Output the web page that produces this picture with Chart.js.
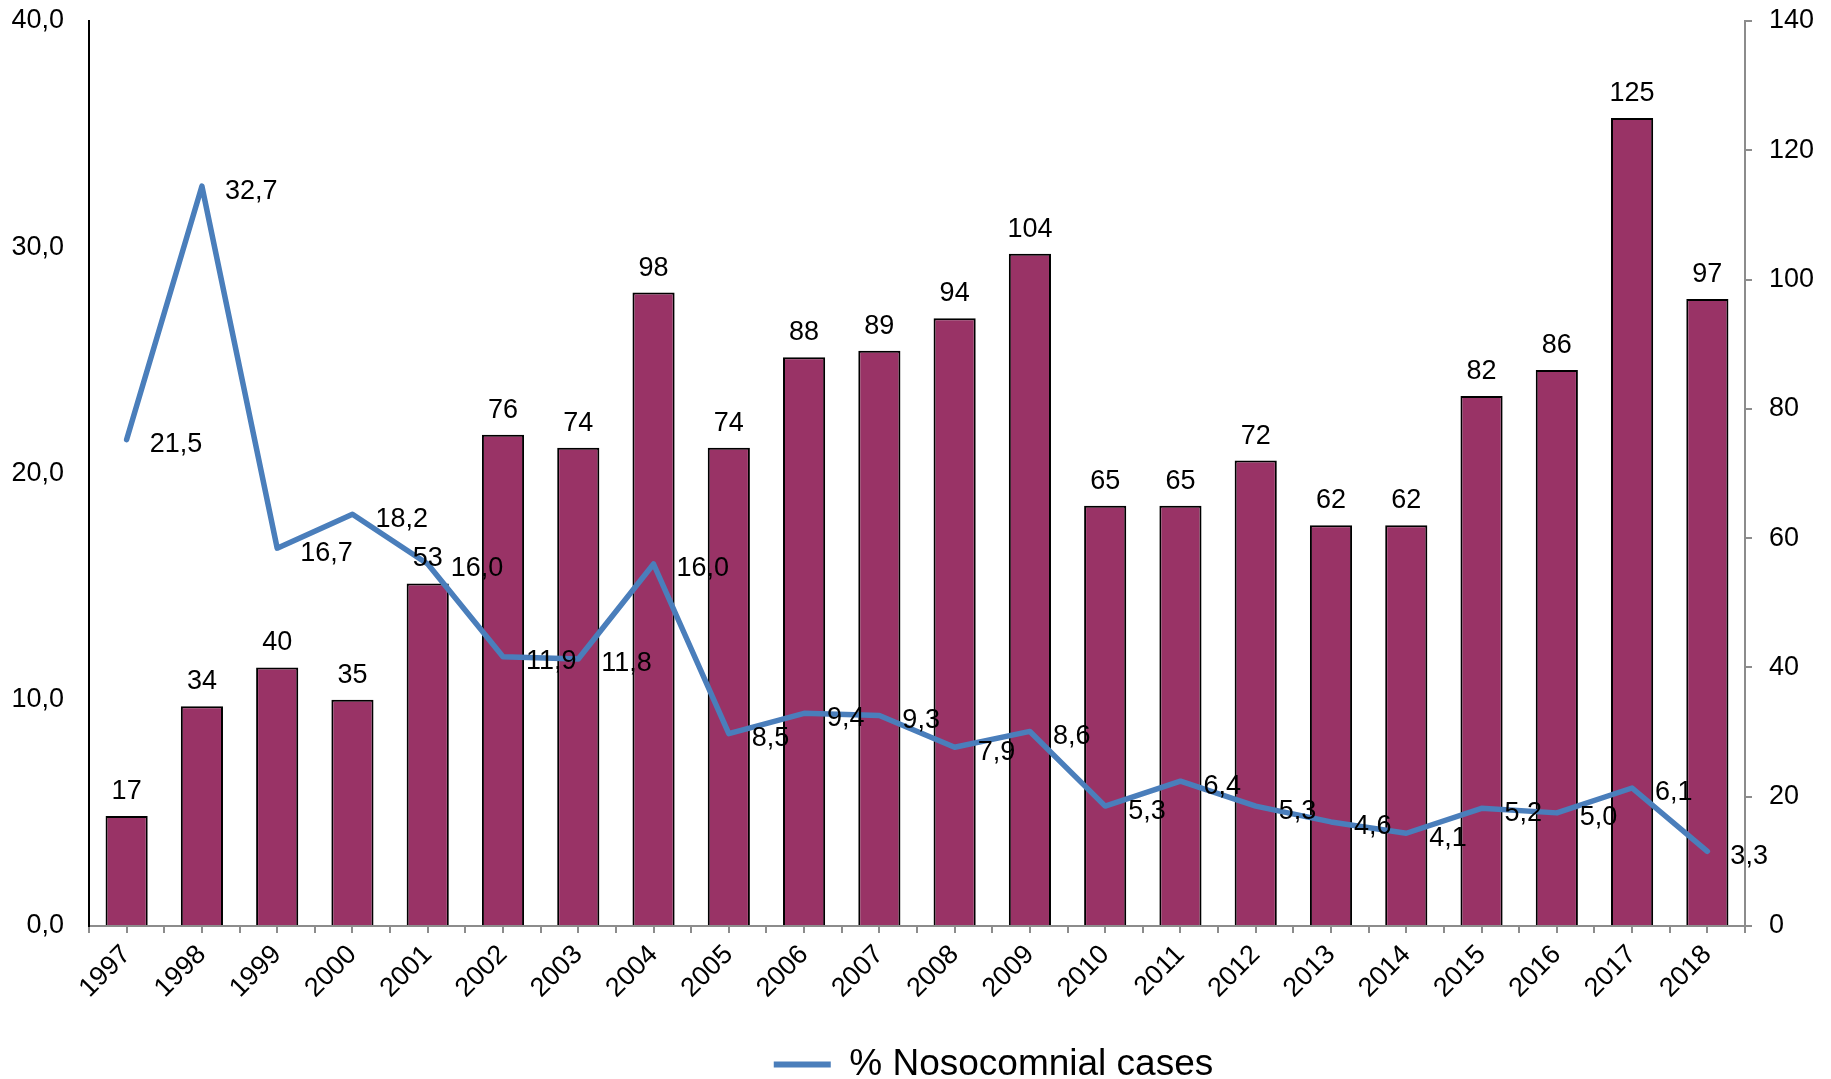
<!DOCTYPE html>
<html>
<head>
<meta charset="utf-8">
<script src="https://cdn.jsdelivr.net/npm/chart.js@4/dist/chart.umd.min.js"></script>
<style>
  html, body { margin: 0; padding: 0; background: #fff; }
  #wrap { width: 1831px; height: 1079px; position: relative; }
</style>
</head>
<body>
<div id="wrap"><canvas id="c"></canvas></div>
<script>
const years = ['1997','1998','1999','2000','2001','2002','2003','2004','2005','2006','2007','2008','2009','2010','2011','2012','2013','2014','2015','2016','2017','2018'];
const cases = [17,34,40,35,53,76,74,98,74,88,89,94,104,65,65,72,62,62,82,86,125,97];
const nosocomialPct = [21.5,32.7,16.7,18.2,16.0,11.9,11.8,16.0,8.5,9.4,9.3,7.9,8.6,5.3,6.4,5.3,4.6,4.1,5.2,5.0,6.1,3.3];
const leftTicks = [0,10,20,30,40];
const rightTicks = [0,20,40,60,80,100,120,140];

const FONT = "'Liberation Sans', Arial, Helvetica, sans-serif";
const comma1 = v => Number(v).toFixed(1).replace('.', ',');

const labelsPlugin = {
  id: 'valueLabels',
  afterDatasetsDraw(chart) {
    const ctx = chart.ctx;
    ctx.save();
    ctx.font = '27px ' + FONT;
    ctx.fillStyle = '#000';
    chart.data.datasets.forEach((ds, di) => {
      const meta = chart.getDatasetMeta(di);
      meta.data.forEach((el, i) => {
        if (ds.type === 'line') {
          ctx.textAlign = 'left';
          ctx.textBaseline = 'middle';
          ctx.fillText(comma1(ds.data[i]), el.x + 23, el.y + 5);
        } else {
          ctx.textAlign = 'center';
          ctx.textBaseline = 'alphabetic';
          ctx.fillText(String(ds.data[i]), el.x, el.y - 17);
        }
      });
    });
    ctx.restore();
  }
};

const centerTicksPlugin = {
  id: 'centerTicks',
  afterDraw(chart) {
    const xs = chart.scales.x;
    const ctx = chart.ctx;
    ctx.save();
    ctx.strokeStyle = '#8c8c8c';
    ctx.lineWidth = 2;
    ctx.beginPath();
    years.forEach((y, i) => {
      const px = Math.round(xs.getPixelForValue(i));
      ctx.moveTo(px, xs.top);
      ctx.lineTo(px, xs.top + 7);
    });
    ctx.stroke();
    ctx.restore();
  }
};

const legendShift = {
  id: 'legendShift',
  afterLayout(chart) {
    if (chart.legend) {
      chart.legend.left += 78;
      chart.legend.right += 78;
    }
  }
};

new Chart(document.getElementById('c'), {
  type: 'bar',
  data: {
    labels: years,
    datasets: [
      {
        type: 'line',
        label: '% Nosocomnial cases',
        data: nosocomialPct,
        yAxisID: 'y',
        borderColor: '#4A7EBB',
        backgroundColor: '#4A7EBB',
        borderWidth: 5.5,
        pointRadius: 0,
        tension: 0,
        borderJoinStyle: 'round',
        borderCapStyle: 'round',
        order: 0
      },
      {
        type: 'bar',
        label: 'Cases',
        data: cases,
        yAxisID: 'y1',
        backgroundColor: '#993366',
        borderColor: '#000000',
        borderWidth: 2,
        barPercentage: 0.56,
        categoryPercentage: 1.0,
        order: 1
      }
    ]
  },
  options: {
    responsive: true,
    maintainAspectRatio: false,
    animation: false,
    devicePixelRatio: 1,
    layout: { padding: { top: 21, left: 0, right: 0, bottom: -14 } },
    plugins: {
      tooltip: { enabled: false },
      legend: {
        position: 'bottom',
        labels: {
          filter: item => item.datasetIndex === 0,
          generateLabels(chart) {
            const items = Chart.defaults.plugins.legend.labels.generateLabels(chart);
            items.forEach(it => { it.lineWidth = 0; it.fillStyle = '#4A7EBB'; it.strokeStyle = '#4A7EBB'; });
            return items;
          },
          boxWidth: 57,
          boxHeight: 6,
          padding: 2,
          color: '#000',
          font: { family: FONT, size: 37 }
        }
      }
    },
    scales: {
      x: {
        type: 'category',
        offset: true,
        grid: { display: true, drawOnChartArea: false, offset: true, tickLength: 7, color: '#8c8c8c', lineWidth: 2 },
        border: { display: true, color: '#8c8c8c', width: 2 },
        ticks: { minRotation: 45, maxRotation: 45, padding: 6, color: '#000', font: { family: FONT, size: 27 } },
        afterFit(scale) { scale.height = 118; }
      },
      y: {
        position: 'left',
        min: 0, max: 40,
        afterBuildTicks(scale) { scale.ticks = leftTicks.map(v => ({ value: v })); },
        grid: { display: false },
        border: { display: true, color: '#000', width: 2 },
        ticks: { padding: 17, color: '#000', font: { family: FONT, size: 27 }, callback: v => comma1(v) },
        afterFit(scale) { scale.width = 89; scale.paddingTop = 0; scale.paddingBottom = 0; }
      },
      y1: {
        position: 'right',
        min: 0, max: 140,
        afterBuildTicks(scale) { scale.ticks = rightTicks.map(v => ({ value: v })); },
        grid: { display: true, drawOnChartArea: false, tickLength: 7, color: '#8c8c8c', lineWidth: 2 },
        border: { display: true, color: '#8c8c8c', width: 2 },
        ticks: { padding: 17, color: '#000', font: { family: FONT, size: 27 }, callback: v => String(v) },
        afterFit(scale) { scale.width = 86; scale.paddingTop = 0; scale.paddingBottom = 0; }
      }
    }
  },
  plugins: [labelsPlugin, centerTicksPlugin, legendShift]
});
</script>
</body>
</html>
